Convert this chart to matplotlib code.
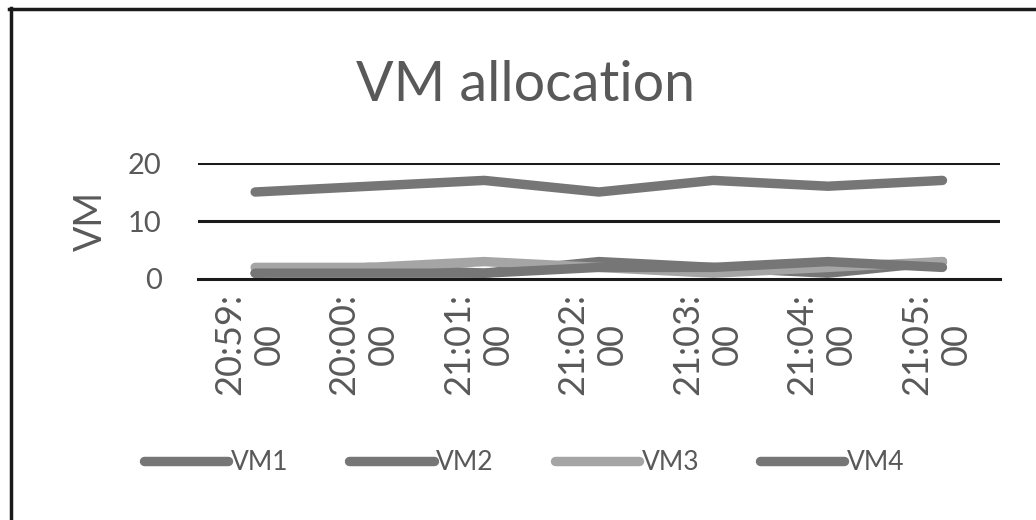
import matplotlib.pyplot as plt
from matplotlib.lines import Line2D
from matplotlib.transforms import ScaledTranslation

times = ['20:59:\n00', '20:00:\n00', '21:01:\n00', '21:02:\n00',
         '21:03:\n00', '21:04:\n00', '21:05:\n00']
vm1 = [15, 16, 17, 15, 17, 16, 17]
vm2 = [1, 2, 1, 3, 2, 1, 3]
vm3 = [2, 2, 3, 2, 1, 2, 3]
vm4 = [1, 1, 1, 2, 2, 3, 2]
names = ['VM1', 'VM2', 'VM3', 'VM4']

dark = '#767676'
light = '#a5a5a5'
txt = '#595959'
plt.rcParams['font.family'] = ['Lato', 'DejaVu Sans']

fig = plt.figure(figsize=(10.36, 5.2), dpi=100)
ax = fig.add_axes([0.191, 0.4635, 0.774, 0.223])

x = list(range(len(times)))
series = [vm1, vm2, vm3, vm4]
cols = [dark, dark, light, dark]
for s, c, n in zip(series, cols, names):
    ax.plot(x, s, color=c, lw=6.8, solid_capstyle='round', solid_joinstyle='round',
            label=n, clip_on=False)

ax.set_xlim(-0.5, len(times) - 0.5)
ax.set_ylim(0, 20)
ax.set_yticks([0, 10, 20])
for yv in [10, 20]:
    ax.axhline(yv, color='#1a1a1a', lw=2.2, zorder=0)
for sp in ['top', 'right', 'left']:
    ax.spines[sp].set_visible(False)
ax.spines['bottom'].set_color('#1a1a1a')
ax.spines['bottom'].set_linewidth(2.2)
ax.spines['bottom'].set_zorder(0)
ax.tick_params(axis='y', length=0, pad=26, labelsize=21, labelcolor=txt)
ax.tick_params(axis='x', length=0, pad=10, labelsize=26, labelcolor=txt)
ax.set_xticks(x)
ax.set_xticklabels(times, rotation=90, ha='center', va='top', multialignment='center',
                   linespacing=1.25)
shift = ScaledTranslation(-6 / 100, 0, fig.dpi_scale_trans)
for lbl in ax.get_xticklabels():
    lbl.set_transform(lbl.get_transform() + shift)
ax.set_ylabel('VM', fontsize=27, color=txt, labelpad=14)

fig.text(0.507, 0.836, 'VM allocation', ha='center', va='center', fontsize=40, color=txt)

handles = [Line2D([], [], color=c, lw=6.8, solid_capstyle='round') for c in cols]
fig.legend(handles, names, loc='center', bbox_to_anchor=(0.506, 0.11), ncol=4,
           frameon=False, fontsize=19, labelcolor=txt, handlelength=3.2,
           handletextpad=0.1, columnspacing=2.3)

# chart frame edges (top and left visible in the crop)
fig.add_artist(Line2D([0.0105, 0.0105], [0, 0.985], color='#1a1a1a', lw=2.5,
                      transform=fig.transFigure))
fig.add_artist(Line2D([0.009, 1.0], [0.983, 0.983], color='#1a1a1a', lw=2.5,
                      transform=fig.transFigure))

fig.savefig('out.png', dpi=100)
